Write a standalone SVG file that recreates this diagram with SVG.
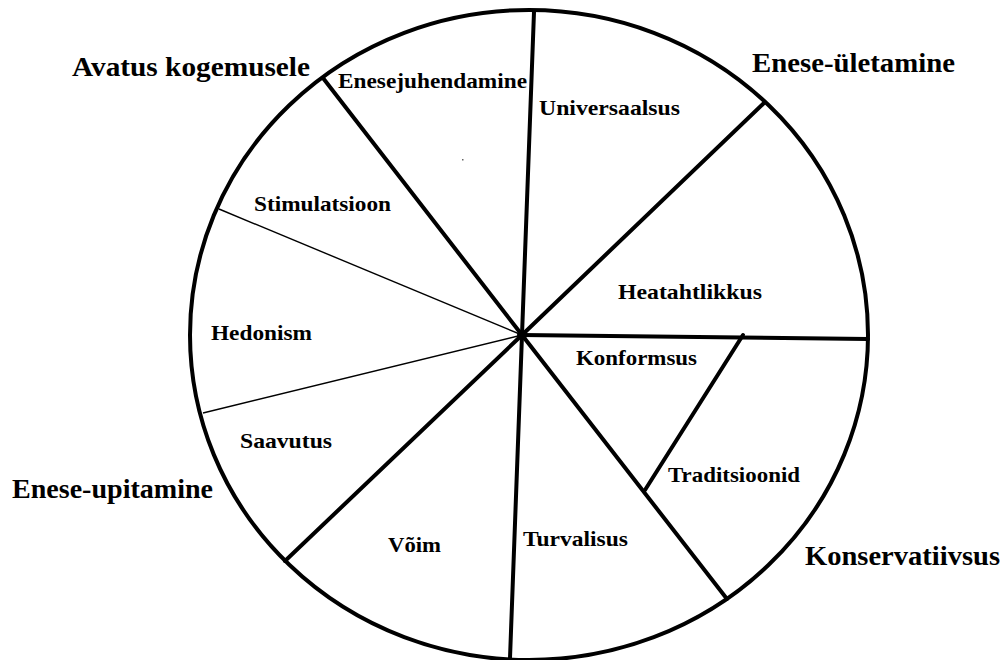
<svg xmlns="http://www.w3.org/2000/svg" width="1005" height="660" viewBox="0 0 1005 660">
<style>
.t{font-family:"Liberation Serif","Times New Roman",serif;font-weight:bold;fill:#000}
.s{font-size:22px}
.b{font-size:27px}
.thick{stroke:#000;stroke-width:4;fill:none;stroke-linecap:round}
.thin{stroke:#000;stroke-width:1.4;fill:none}
</style>
<rect width="1005" height="660" fill="#fff"/>
<g id="wheel">
<ellipse cx="529" cy="335" rx="339" ry="325" class="thick"/>
</g>
<g id="connectors">
<line x1="522" y1="335" x2="534" y2="12" class="thick"/>
<line x1="522" y1="335" x2="510" y2="658" class="thick"/>
<line x1="522" y1="335" x2="323" y2="78" class="thick"/>
<line x1="522" y1="335" x2="764" y2="103" class="thick"/>
<line x1="522" y1="335" x2="868" y2="339" class="thick"/>
<line x1="522" y1="335" x2="727" y2="599" class="thick"/>
<line x1="522" y1="335" x2="285" y2="561" class="thick"/>
<line x1="522" y1="335" x2="219" y2="209" class="thin"/>
<line x1="522" y1="335" x2="203" y2="413" class="thin"/>
<line x1="743" y1="335" x2="645" y2="490" class="thick"/>
<circle cx="522" cy="335" r="5" fill="#000"/>
<rect x="462" y="159" width="1.5" height="1.5" fill="#666"/>
</g>
<g id="n-enesejuhendamine"><text class="t s" x="338" y="88" textLength="189" lengthAdjust="spacingAndGlyphs">Enesejuhendamine</text></g>
<g id="n-universaalsus"><text class="t s" x="539" y="115" textLength="141" lengthAdjust="spacingAndGlyphs">Universaalsus</text></g>
<g id="n-stimulatsioon"><text class="t s" x="254" y="211" textLength="137" lengthAdjust="spacingAndGlyphs">Stimulatsioon</text></g>
<g id="n-hedonism"><text class="t s" x="211" y="340" textLength="101" lengthAdjust="spacingAndGlyphs">Hedonism</text></g>
<g id="n-saavutus"><text class="t s" x="240" y="448" textLength="92" lengthAdjust="spacingAndGlyphs">Saavutus</text></g>
<g id="n-heatahtlikkus"><text class="t s" x="618" y="299" textLength="144" lengthAdjust="spacingAndGlyphs">Heatahtlikkus</text></g>
<g id="n-konformsus"><text class="t s" x="576" y="365" textLength="121" lengthAdjust="spacingAndGlyphs">Konformsus</text></g>
<g id="n-traditsioonid"><text class="t s" x="668" y="482" textLength="132" lengthAdjust="spacingAndGlyphs">Traditsioonid</text></g>
<g id="n-voim"><text class="t s" x="388" y="552" textLength="53" lengthAdjust="spacingAndGlyphs">Võim</text></g>
<g id="n-turvalisus"><text class="t s" x="523" y="546" textLength="105" lengthAdjust="spacingAndGlyphs">Turvalisus</text></g>
<g id="g-avatus"><text class="t b" x="72" y="76" textLength="238" lengthAdjust="spacingAndGlyphs">Avatus kogemusele</text></g>
<g id="g-uletamine"><text class="t b" x="752" y="72" textLength="203" lengthAdjust="spacingAndGlyphs">Enese-ületamine</text></g>
<g id="g-upitamine"><text class="t b" x="12" y="498" textLength="201" lengthAdjust="spacingAndGlyphs">Enese-upitamine</text></g>
<g id="g-konservatiivsus"><text class="t b" x="805" y="565" textLength="195" lengthAdjust="spacingAndGlyphs">Konservatiivsus</text></g>
</svg>
